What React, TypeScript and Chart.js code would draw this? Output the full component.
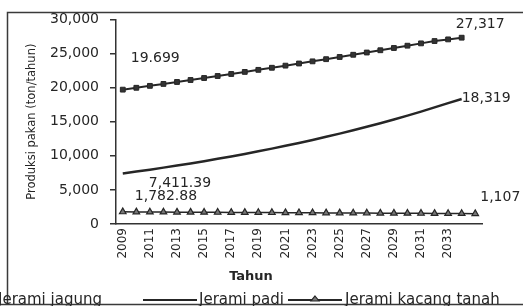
import React, { useEffect, useRef } from "react";
import { Chart, registerables } from "chart.js";

Chart.register(...registerables);

const years = [
  "2009", "2010", "2011", "2012", "2013", "2014", "2015", "2016", "2017",
  "2018", "2019", "2020", "2021", "2022", "2023", "2024", "2025", "2026",
  "2027", "2028", "2029", "2030", "2031", "2032", "2033", "2034", "2035",
];

const jeramiJagung = [
  19699, 19975, 20255, 20538, 20824, 21113, 21405, 21700, 21998, 22299,
  22603, 22910, 23220, 23533, 23849, 24168, 24490, 24815, 25143, 25474,
  25808, 26145, 26485, 26828, 27070, 27317, null,
];

const jeramiPadi = [
  7411.39, 7685, 7970, 8265, 8570, 8887, 9216, 9557, 9911, 10278, 10658,
  11052, 11461, 11885, 12325, 12781, 13254, 13745, 14253, 14781, 15328,
  15895, 16483, 17093, 17725, 18319, null,
];

const jeramiKacangTanah = [
  1782.88, 1770, 1760, 1750, 1740, 1730, 1720, 1710, 1700, 1690, 1680, 1670,
  1660, 1650, 1640, 1630, 1620, 1610, 1600, 1590, 1580, 1570, 1560, 1550,
  1540, 1530, 1520,
];

const seriesNames = ["Jerami jagung", "Jerami padi", "Jerami kacang tanah"];
const yTicks = [0, 5000, 10000, 15000, 20000, 25000, 30000];
const yTitle = "Produksi pakan (ton/tahun)";
const xTitle = "Tahun";

// [datasetIndex, pointIndex, text, dx, dy]
const pointLabels: [number, number, string, number, number][] = [
  [0, 0, "19.699", 8, -31],
  [0, 25, "27,317", -6, -13],
  [1, 25, "18,319", 0, -1],
  [1, 0, "7,411.39", 26, 10],
  [2, 0, "1,782.88", 12, -15],
  [2, 26, "1,107", 5, -16],
];

const INK = "#262626";

const decorPlugin = {
  id: "decor",
  afterDraw(chart: any) {
    const ctx = chart.ctx as CanvasRenderingContext2D;
    const area = chart.chartArea;
    ctx.save();
    // frame
    ctx.fillStyle = "#fff";
    ctx.fillRect(0, 0, 523, 12);
    ctx.strokeStyle = "#3a3a3a";
    ctx.lineWidth = 1.5;
    ctx.beginPath();
    ctx.moveTo(7.5, 304);
    ctx.lineTo(7.5, 12.5);
    ctx.lineTo(530, 12.5);
    ctx.stroke();
    ctx.beginPath();
    ctx.moveTo(0, 304.5);
    ctx.lineTo(530, 304.5);
    ctx.stroke();

    // y title
    ctx.fillStyle = INK;
    ctx.font = "11.5px 'DejaVu Sans'";
    ctx.textAlign = "center";
    ctx.textBaseline = "middle";
    ctx.save();
    ctx.translate(32, (area.top + area.bottom) / 2);
    ctx.rotate(-Math.PI / 2);
    ctx.fillText(yTitle, 0, 0);
    ctx.restore();

    // x title
    ctx.font = "bold 13px 'DejaVu Sans'";
    ctx.fillText(xTitle, 251, 277);

    // point labels
    ctx.font = "14px 'DejaVu Sans'";
    ctx.textAlign = "left";
    for (const [di, pi, text, dx, dy] of pointLabels) {
      const el = chart.getDatasetMeta(di).data[pi];
      if (!el) continue;
      ctx.fillText(text, el.x + dx, el.y + dy);
    }

    // legend
    ctx.font = "15px 'DejaVu Sans'";
    ctx.textBaseline = "alphabetic";
    const ly = 304;
    ctx.fillText(seriesNames[0], -2, ly);
    ctx.strokeStyle = INK;
    ctx.lineWidth = 2;
    ctx.beginPath();
    ctx.moveTo(143, 300);
    ctx.lineTo(197, 300);
    ctx.stroke();
    ctx.fillText(seriesNames[1], 199, ly);
    ctx.beginPath();
    ctx.moveTo(288, 300);
    ctx.lineTo(342, 300);
    ctx.stroke();
    ctx.lineWidth = 1.2;
    ctx.fillStyle = "#777";
    ctx.beginPath();
    ctx.moveTo(315, 296);
    ctx.lineTo(319, 301);
    ctx.lineTo(311, 301);
    ctx.closePath();
    ctx.fill();
    ctx.stroke();
    ctx.fillStyle = INK;
    ctx.fillText(seriesNames[2], 345, ly);
    ctx.restore();
  },
};

export default function App() {
  const ref = useRef<HTMLCanvasElement | null>(null);

  useEffect(() => {
    document.body.style.margin = "0";
    const canvas = ref.current!;
    const chart = new Chart(canvas, {
      type: "line",
      data: {
        labels: years,
        datasets: [
          {
            label: seriesNames[0],
            data: jeramiJagung,
            borderColor: INK,
            borderWidth: 2,
            pointStyle: "rect",
            pointRadius: 3.4,
            pointBackgroundColor: "#333",
            pointBorderColor: INK,
            pointBorderWidth: 1,
            tension: 0,
          },
          {
            label: seriesNames[1],
            data: jeramiPadi,
            borderColor: INK,
            borderWidth: 2.5,
            pointRadius: 0,
            tension: 0,
          },
          {
            label: seriesNames[2],
            data: jeramiKacangTanah,
            borderColor: INK,
            borderWidth: 1.5,
            pointStyle: "triangle",
            pointRadius: 3.8,
            pointBackgroundColor: "#777",
            pointBorderColor: INK,
            pointBorderWidth: 1.2,
            tension: 0,
          },
        ],
      },
      options: {
        animation: false,
        responsive: false,
        layout: { padding: { top: 18, right: 41, left: 0, bottom: 0 } },
        plugins: {
          legend: { display: false },
          tooltip: { enabled: false },
        },
        scales: {
          x: {
            type: "category",
            offset: true,
            grid: { display: false, drawTicks: false },
            border: { display: true, color: "#333", width: 1.5 },
            ticks: {
              autoSkip: false,
              minRotation: 90,
              maxRotation: 90,
              padding: 4,
              color: INK,
              font: { family: "DejaVu Sans", size: 12 },
              callback: (_v: any, i: number) =>
                i % 2 === 0 && i < 26 ? years[i] : "",
            },
            afterFit: (scale: any) => {
              scale.height = 82;
            },
          },
          y: {
            min: 0,
            max: 30000,
            afterBuildTicks: (scale: any) => {
              scale.ticks = yTicks.map((v) => ({ value: v }));
            },
            grid: {
              drawOnChartArea: false,
              drawTicks: true,
              tickLength: 6,
              color: "#333",
              lineWidth: 1.5,
            },
            border: { display: true, color: "#333", width: 1.5 },
            ticks: {
              padding: 11,
              color: INK,
              font: { family: "DejaVu Sans", size: 14 },
              callback: (v: any) => Number(v).toLocaleString("en-US"),
            },
            afterFit: (scale: any) => {
              scale.width = 116;
            },
          },
        },
      },
      plugins: [decorPlugin],
    });
    return () => chart.destroy();
  }, []);

  return (
    <div style={{ position: "absolute", left: 0, top: 0, width: 523, height: 306, background: "#fff" }}>
      <canvas ref={ref} width={523} height={306} style={{ display: "block" }} />
    </div>
  );
}
